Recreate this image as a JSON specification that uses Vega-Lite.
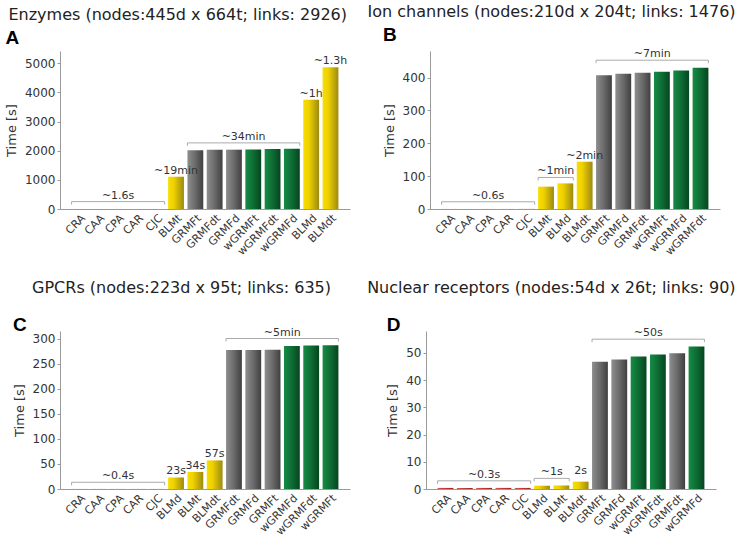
{
  "$schema": "https://vega.github.io/schema/vega-lite/v6.json",
  "background": "white",
  "padding": {"left": 5, "top": 4, "right": 5, "bottom": 5},
  "datasets": {
    "bars": [
      {"p": "A", "name": "CRA", "g": "c", "value": 0.3},
      {"p": "A", "name": "CAA", "g": "c", "value": 0.3},
      {"p": "A", "name": "CPA", "g": "c", "value": 0.3},
      {"p": "A", "name": "CAR", "g": "c", "value": 0.3},
      {"p": "A", "name": "CJC", "g": "c", "value": 0.4},
      {"p": "A", "name": "BLMt", "g": "y", "value": 1107, "label": "~19min"},
      {"p": "A", "name": "GRMFt", "g": "k", "value": 2015},
      {"p": "A", "name": "GRMFdt", "g": "k", "value": 2030},
      {"p": "A", "name": "GRMFd", "g": "k", "value": 2035},
      {"p": "A", "name": "wGRMFt", "g": "w", "value": 2040},
      {"p": "A", "name": "wGRMFdt", "g": "w", "value": 2055},
      {"p": "A", "name": "wGRMFd", "g": "w", "value": 2070},
      {"p": "A", "name": "BLMd", "g": "y", "value": 3750, "label": "~1h"},
      {"p": "A", "name": "BLMdt", "g": "y", "value": 4860, "label": "~1.3h"},
      {"p": "B", "name": "CRA", "g": "c", "value": 0.1},
      {"p": "B", "name": "CAA", "g": "c", "value": 0.1},
      {"p": "B", "name": "CPA", "g": "c", "value": 0.1},
      {"p": "B", "name": "CAR", "g": "c", "value": 0.1},
      {"p": "B", "name": "CJC", "g": "c", "value": 0.2},
      {"p": "B", "name": "BLMt", "g": "y", "value": 68},
      {"p": "B", "name": "BLMd", "g": "y", "value": 78},
      {"p": "B", "name": "BLMdt", "g": "y", "value": 144, "label": "~2min"},
      {"p": "B", "name": "GRMFt", "g": "k", "value": 407},
      {"p": "B", "name": "GRMFd", "g": "k", "value": 412},
      {"p": "B", "name": "GRMFdt", "g": "k", "value": 415},
      {"p": "B", "name": "wGRMFt", "g": "w", "value": 418},
      {"p": "B", "name": "wGRMFd", "g": "w", "value": 422},
      {"p": "B", "name": "wGRMFdt", "g": "w", "value": 430},
      {"p": "C", "name": "CRA", "g": "c", "value": 0.08},
      {"p": "C", "name": "CAA", "g": "c", "value": 0.08},
      {"p": "C", "name": "CPA", "g": "c", "value": 0.08},
      {"p": "C", "name": "CAR", "g": "c", "value": 0.08},
      {"p": "C", "name": "CJC", "g": "c", "value": 0.1},
      {"p": "C", "name": "BLMd", "g": "y", "value": 23, "label": "23s"},
      {"p": "C", "name": "BLMt", "g": "y", "value": 34, "label": "34s"},
      {"p": "C", "name": "BLMdt", "g": "y", "value": 57, "label": "57s"},
      {"p": "C", "name": "GRMFdt", "g": "k", "value": 277},
      {"p": "C", "name": "GRMFd", "g": "k", "value": 277},
      {"p": "C", "name": "GRMFt", "g": "k", "value": 277.5},
      {"p": "C", "name": "wGRMFd", "g": "w", "value": 285},
      {"p": "C", "name": "wGRMFdt", "g": "w", "value": 286},
      {"p": "C", "name": "wGRMFt", "g": "w", "value": 286.5},
      {"p": "D", "name": "CRA", "g": "c", "value": 0.4},
      {"p": "D", "name": "CAA", "g": "c", "value": 0.4},
      {"p": "D", "name": "CPA", "g": "c", "value": 0.4},
      {"p": "D", "name": "CAR", "g": "c", "value": 0.4},
      {"p": "D", "name": "CJC", "g": "c", "value": 0.4},
      {"p": "D", "name": "BLMd", "g": "y", "value": 1.2},
      {"p": "D", "name": "BLMt", "g": "y", "value": 1.3},
      {"p": "D", "name": "BLMdt", "g": "y", "value": 2.7, "label": "2s"},
      {"p": "D", "name": "GRMFt", "g": "k", "value": 46.7},
      {"p": "D", "name": "GRMFd", "g": "k", "value": 47.5},
      {"p": "D", "name": "wGRMFt", "g": "w", "value": 48.6},
      {"p": "D", "name": "wGRMFdt", "g": "w", "value": 49.4},
      {"p": "D", "name": "GRMFdt", "g": "k", "value": 49.8},
      {"p": "D", "name": "wGRMFd", "g": "w", "value": 52.3}
    ],
    "brackets": [
      {"p": "A", "start": "CRA", "end": "CJC", "mid": "CPA", "even": false, "level": 253, "tick": 153, "label": "~1.6s"},
      {"p": "A", "start": "GRMFt", "end": "wGRMFd", "mid": "GRMFd", "even": true, "level": 2268, "tick": 2168, "label": "~34min"},
      {"p": "B", "start": "CRA", "end": "CJC", "mid": "CPA", "even": false, "level": 22, "tick": 13, "label": "~0.6s"},
      {"p": "B", "start": "BLMt", "end": "BLMd", "mid": "BLMt", "even": true, "level": 96, "tick": 87, "label": "~1min"},
      {"p": "B", "start": "GRMFt", "end": "wGRMFdt", "mid": "GRMFdt", "even": true, "level": 453, "tick": 444, "label": "~7min"},
      {"p": "C", "start": "CRA", "end": "CJC", "mid": "CPA", "even": false, "level": 13.4, "tick": 7.4, "label": "~0.4s"},
      {"p": "C", "start": "GRMFdt", "end": "wGRMFt", "mid": "GRMFt", "even": true, "level": 300, "tick": 294, "label": "~5min"},
      {"p": "D", "start": "CRA", "end": "CJC", "mid": "CPA", "even": false, "level": 3.0, "tick": 1.9, "label": "~0.3s"},
      {"p": "D", "start": "BLMd", "end": "BLMt", "mid": "BLMd", "even": true, "level": 3.9, "tick": 2.8, "label": "~1s"},
      {"p": "D", "start": "GRMFt", "end": "wGRMFd", "mid": "wGRMFt", "even": true, "level": 55, "tick": 53.9, "label": "~50s"}
    ]
  },
  "vconcat": [
    {
      "spacing": 17,
      "hconcat": [
        {
          "title": {"text": "Enzymes (nodes:445d x 664t; links: 2926)", "anchor": "middle", "frame": "bounds", "offset": 6},
          "vconcat": [
            {
              "title": {"text": "A", "anchor": "start", "frame": "bounds", "font": "Liberation Sans", "fontSize": 19, "fontWeight": "bold", "color": "#000", "offset": 3},
              "width": 290, "height": 158,
              "encoding": {
                "x": {"field": "name", "type": "nominal", "title": null, "scale": {"domain": ["CRA","CAA","CPA","CAR","CJC","BLMt","GRMFt","GRMFdt","GRMFd","wGRMFt","wGRMFdt","wGRMFd","BLMd","BLMdt"], "paddingInner": 0.18, "paddingOuter": 0.6}},
                "y": {"field": "value", "type": "quantitative", "title": "Time [s]", "scale": {"domain": [0, 5420], "nice": false}, "axis": {"values": [0, 1000, 2000, 3000, 4000, 5000], "format": "d"}}
              },
              "layer": [
                {"data": {"name": "bars"}, "transform": [{"filter": "datum.p == 'A' && datum.g == 'c'"}], "mark": {"type": "bar", "color": {"gradient": "linear", "stops": [{"offset": 0, "color": "#d9534f"}, {"offset": 1, "color": "#a02020"}]}}},
                {"data": {"name": "bars"}, "transform": [{"filter": "datum.p == 'A' && datum.g == 'y'"}], "mark": {"type": "bar", "color": {"gradient": "linear", "stops": [{"offset": 0, "color": "#f8de00"}, {"offset": 0.35, "color": "#efd100"}, {"offset": 1, "color": "#9c8a12"}]}}},
                {"data": {"name": "bars"}, "transform": [{"filter": "datum.p == 'A' && datum.g == 'k'"}], "mark": {"type": "bar", "color": {"gradient": "linear", "stops": [{"offset": 0, "color": "#8e8e8e"}, {"offset": 0.5, "color": "#6a6a6a"}, {"offset": 1, "color": "#404040"}]}}},
                {"data": {"name": "bars"}, "transform": [{"filter": "datum.p == 'A' && datum.g == 'w'"}], "mark": {"type": "bar", "color": {"gradient": "linear", "stops": [{"offset": 0, "color": "#168c46"}, {"offset": 0.5, "color": "#0e6c34"}, {"offset": 1, "color": "#06451f"}]}}},
                {"data": {"name": "bars"}, "transform": [{"filter": "datum.p == 'A' && datum.label"}], "mark": {"type": "text", "baseline": "bottom", "dy": -1, "fontSize": 11, "color": "#333"}, "encoding": {"text": {"field": "label"}}},
                {"data": {"name": "brackets"}, "transform": [{"filter": "datum.p == 'A'"}], "mark": {"type": "rule", "color": "#aaaaaa"}, "encoding": {"x": {"field": "start", "type": "nominal", "bandPosition": 0, "title": null}, "x2": {"field": "end", "bandPosition": 1}, "y": {"field": "level", "type": "quantitative", "title": "Time [s]"}}},
                {"data": {"name": "brackets"}, "transform": [{"filter": "datum.p == 'A'"}], "mark": {"type": "rule", "color": "#aaaaaa"}, "encoding": {"x": {"field": "start", "type": "nominal", "bandPosition": 0, "title": null}, "y": {"field": "level", "type": "quantitative", "title": "Time [s]"}, "y2": {"field": "tick"}}},
                {"data": {"name": "brackets"}, "transform": [{"filter": "datum.p == 'A'"}], "mark": {"type": "rule", "color": "#aaaaaa"}, "encoding": {"x": {"field": "end", "type": "nominal", "bandPosition": 1, "title": null}, "y": {"field": "level", "type": "quantitative", "title": "Time [s]"}, "y2": {"field": "tick"}}},
                {"data": {"name": "brackets"}, "transform": [{"filter": "datum.p == 'A' && !datum.even"}], "mark": {"type": "text", "baseline": "bottom", "dy": -1, "fontSize": 11, "color": "#333"}, "encoding": {"x": {"field": "mid", "type": "nominal", "bandPosition": 0.5, "title": null}, "y": {"field": "level", "type": "quantitative", "title": "Time [s]"}, "text": {"field": "label"}}},
                {"data": {"name": "brackets"}, "transform": [{"filter": "datum.p == 'A' && datum.even"}], "mark": {"type": "text", "baseline": "bottom", "dy": -1, "fontSize": 11, "color": "#333"}, "encoding": {"x": {"field": "mid", "type": "nominal", "bandPosition": 1.11, "title": null}, "y": {"field": "level", "type": "quantitative", "title": "Time [s]"}, "text": {"field": "label"}}}
              ]
            }
          ]
        },
        {
          "title": {"text": "Ion channels (nodes:210d x 204t; links: 1476)", "anchor": "middle", "frame": "bounds", "offset": 6},
          "vconcat": [
            {
              "title": {"text": "B", "anchor": "start", "frame": "bounds", "font": "Liberation Sans", "fontSize": 19, "fontWeight": "bold", "color": "#000", "offset": 3},
              "width": 290, "height": 158,
              "encoding": {
                "x": {"field": "name", "type": "nominal", "title": null, "scale": {"domain": ["CRA","CAA","CPA","CAR","CJC","BLMt","BLMd","BLMdt","GRMFt","GRMFd","GRMFdt","wGRMFt","wGRMFd","wGRMFdt"], "paddingInner": 0.18, "paddingOuter": 0.6}},
                "y": {"field": "value", "type": "quantitative", "title": "Time [s]", "scale": {"domain": [0, 481], "nice": false}, "axis": {"values": [0, 100, 200, 300, 400], "format": "d"}}
              },
              "layer": [
                {"data": {"name": "bars"}, "transform": [{"filter": "datum.p == 'B' && datum.g == 'c'"}], "mark": {"type": "bar", "color": {"gradient": "linear", "stops": [{"offset": 0, "color": "#d9534f"}, {"offset": 1, "color": "#a02020"}]}}},
                {"data": {"name": "bars"}, "transform": [{"filter": "datum.p == 'B' && datum.g == 'y'"}], "mark": {"type": "bar", "color": {"gradient": "linear", "stops": [{"offset": 0, "color": "#f8de00"}, {"offset": 0.35, "color": "#efd100"}, {"offset": 1, "color": "#9c8a12"}]}}},
                {"data": {"name": "bars"}, "transform": [{"filter": "datum.p == 'B' && datum.g == 'k'"}], "mark": {"type": "bar", "color": {"gradient": "linear", "stops": [{"offset": 0, "color": "#8e8e8e"}, {"offset": 0.5, "color": "#6a6a6a"}, {"offset": 1, "color": "#404040"}]}}},
                {"data": {"name": "bars"}, "transform": [{"filter": "datum.p == 'B' && datum.g == 'w'"}], "mark": {"type": "bar", "color": {"gradient": "linear", "stops": [{"offset": 0, "color": "#168c46"}, {"offset": 0.5, "color": "#0e6c34"}, {"offset": 1, "color": "#06451f"}]}}},
                {"data": {"name": "bars"}, "transform": [{"filter": "datum.p == 'B' && datum.label"}], "mark": {"type": "text", "baseline": "bottom", "dy": -1, "fontSize": 11, "color": "#333"}, "encoding": {"text": {"field": "label"}}},
                {"data": {"name": "brackets"}, "transform": [{"filter": "datum.p == 'B'"}], "mark": {"type": "rule", "color": "#aaaaaa"}, "encoding": {"x": {"field": "start", "type": "nominal", "bandPosition": 0, "title": null}, "x2": {"field": "end", "bandPosition": 1}, "y": {"field": "level", "type": "quantitative", "title": "Time [s]"}}},
                {"data": {"name": "brackets"}, "transform": [{"filter": "datum.p == 'B'"}], "mark": {"type": "rule", "color": "#aaaaaa"}, "encoding": {"x": {"field": "start", "type": "nominal", "bandPosition": 0, "title": null}, "y": {"field": "level", "type": "quantitative", "title": "Time [s]"}, "y2": {"field": "tick"}}},
                {"data": {"name": "brackets"}, "transform": [{"filter": "datum.p == 'B'"}], "mark": {"type": "rule", "color": "#aaaaaa"}, "encoding": {"x": {"field": "end", "type": "nominal", "bandPosition": 1, "title": null}, "y": {"field": "level", "type": "quantitative", "title": "Time [s]"}, "y2": {"field": "tick"}}},
                {"data": {"name": "brackets"}, "transform": [{"filter": "datum.p == 'B' && !datum.even"}], "mark": {"type": "text", "baseline": "bottom", "dy": -1, "fontSize": 11, "color": "#333"}, "encoding": {"x": {"field": "mid", "type": "nominal", "bandPosition": 0.5, "title": null}, "y": {"field": "level", "type": "quantitative", "title": "Time [s]"}, "text": {"field": "label"}}},
                {"data": {"name": "brackets"}, "transform": [{"filter": "datum.p == 'B' && datum.even"}], "mark": {"type": "text", "baseline": "bottom", "dy": -1, "fontSize": 11, "color": "#333"}, "encoding": {"x": {"field": "mid", "type": "nominal", "bandPosition": 1.11, "title": null}, "y": {"field": "level", "type": "quantitative", "title": "Time [s]"}, "text": {"field": "label"}}}
              ]
            }
          ]
        }
      ]
    },
    {
      "spacing": 17,
      "hconcat": [
        {
          "title": {"text": "GPCRs (nodes:223d x 95t; links: 635)", "anchor": "middle", "frame": "bounds", "offset": 20},
          "vconcat": [
            {
              "title": {"text": "C", "anchor": "start", "frame": "bounds", "font": "Liberation Sans", "fontSize": 19, "fontWeight": "bold", "color": "#000", "offset": -8},
              "width": 290, "height": 158,
              "encoding": {
                "x": {"field": "name", "type": "nominal", "title": null, "scale": {"domain": ["CRA","CAA","CPA","CAR","CJC","BLMd","BLMt","BLMdt","GRMFdt","GRMFd","GRMFt","wGRMFd","wGRMFdt","wGRMFt"], "paddingInner": 0.18, "paddingOuter": 0.6}},
                "y": {"field": "value", "type": "quantitative", "title": "Time [s]", "scale": {"domain": [0, 315], "nice": false}, "axis": {"values": [0, 50, 100, 150, 200, 250, 300], "format": "d"}}
              },
              "layer": [
                {"data": {"name": "bars"}, "transform": [{"filter": "datum.p == 'C' && datum.g == 'c'"}], "mark": {"type": "bar", "color": {"gradient": "linear", "stops": [{"offset": 0, "color": "#d9534f"}, {"offset": 1, "color": "#a02020"}]}}},
                {"data": {"name": "bars"}, "transform": [{"filter": "datum.p == 'C' && datum.g == 'y'"}], "mark": {"type": "bar", "color": {"gradient": "linear", "stops": [{"offset": 0, "color": "#f8de00"}, {"offset": 0.35, "color": "#efd100"}, {"offset": 1, "color": "#9c8a12"}]}}},
                {"data": {"name": "bars"}, "transform": [{"filter": "datum.p == 'C' && datum.g == 'k'"}], "mark": {"type": "bar", "color": {"gradient": "linear", "stops": [{"offset": 0, "color": "#8e8e8e"}, {"offset": 0.5, "color": "#6a6a6a"}, {"offset": 1, "color": "#404040"}]}}},
                {"data": {"name": "bars"}, "transform": [{"filter": "datum.p == 'C' && datum.g == 'w'"}], "mark": {"type": "bar", "color": {"gradient": "linear", "stops": [{"offset": 0, "color": "#168c46"}, {"offset": 0.5, "color": "#0e6c34"}, {"offset": 1, "color": "#06451f"}]}}},
                {"data": {"name": "bars"}, "transform": [{"filter": "datum.p == 'C' && datum.label"}], "mark": {"type": "text", "baseline": "bottom", "dy": -1, "fontSize": 11, "color": "#333"}, "encoding": {"text": {"field": "label"}}},
                {"data": {"name": "brackets"}, "transform": [{"filter": "datum.p == 'C'"}], "mark": {"type": "rule", "color": "#aaaaaa"}, "encoding": {"x": {"field": "start", "type": "nominal", "bandPosition": 0, "title": null}, "x2": {"field": "end", "bandPosition": 1}, "y": {"field": "level", "type": "quantitative", "title": "Time [s]"}}},
                {"data": {"name": "brackets"}, "transform": [{"filter": "datum.p == 'C'"}], "mark": {"type": "rule", "color": "#aaaaaa"}, "encoding": {"x": {"field": "start", "type": "nominal", "bandPosition": 0, "title": null}, "y": {"field": "level", "type": "quantitative", "title": "Time [s]"}, "y2": {"field": "tick"}}},
                {"data": {"name": "brackets"}, "transform": [{"filter": "datum.p == 'C'"}], "mark": {"type": "rule", "color": "#aaaaaa"}, "encoding": {"x": {"field": "end", "type": "nominal", "bandPosition": 1, "title": null}, "y": {"field": "level", "type": "quantitative", "title": "Time [s]"}, "y2": {"field": "tick"}}},
                {"data": {"name": "brackets"}, "transform": [{"filter": "datum.p == 'C' && !datum.even"}], "mark": {"type": "text", "baseline": "bottom", "dy": -1, "fontSize": 11, "color": "#333"}, "encoding": {"x": {"field": "mid", "type": "nominal", "bandPosition": 0.5, "title": null}, "y": {"field": "level", "type": "quantitative", "title": "Time [s]"}, "text": {"field": "label"}}},
                {"data": {"name": "brackets"}, "transform": [{"filter": "datum.p == 'C' && datum.even"}], "mark": {"type": "text", "baseline": "bottom", "dy": -1, "fontSize": 11, "color": "#333"}, "encoding": {"x": {"field": "mid", "type": "nominal", "bandPosition": 1.11, "title": null}, "y": {"field": "level", "type": "quantitative", "title": "Time [s]"}, "text": {"field": "label"}}}
              ]
            }
          ]
        },
        {
          "title": {"text": "Nuclear receptors (nodes:54d x 26t; links: 90)", "anchor": "middle", "frame": "bounds", "offset": 20},
          "vconcat": [
            {
              "title": {"text": "D", "anchor": "start", "frame": "bounds", "font": "Liberation Sans", "fontSize": 19, "fontWeight": "bold", "color": "#000", "offset": -8},
              "width": 290, "height": 158,
              "encoding": {
                "x": {"field": "name", "type": "nominal", "title": null, "scale": {"domain": ["CRA","CAA","CPA","CAR","CJC","BLMd","BLMt","BLMdt","GRMFt","GRMFd","wGRMFt","wGRMFdt","GRMFdt","wGRMFd"], "paddingInner": 0.18, "paddingOuter": 0.6}},
                "y": {"field": "value", "type": "quantitative", "title": "Time [s]", "scale": {"domain": [0, 58], "nice": false}, "axis": {"values": [0, 10, 20, 30, 40, 50], "format": "d"}}
              },
              "layer": [
                {"data": {"name": "bars"}, "transform": [{"filter": "datum.p == 'D' && datum.g == 'c'"}], "mark": {"type": "bar", "color": {"gradient": "linear", "stops": [{"offset": 0, "color": "#d9534f"}, {"offset": 1, "color": "#a02020"}]}}},
                {"data": {"name": "bars"}, "transform": [{"filter": "datum.p == 'D' && datum.g == 'y'"}], "mark": {"type": "bar", "color": {"gradient": "linear", "stops": [{"offset": 0, "color": "#f8de00"}, {"offset": 0.35, "color": "#efd100"}, {"offset": 1, "color": "#9c8a12"}]}}},
                {"data": {"name": "bars"}, "transform": [{"filter": "datum.p == 'D' && datum.g == 'k'"}], "mark": {"type": "bar", "color": {"gradient": "linear", "stops": [{"offset": 0, "color": "#8e8e8e"}, {"offset": 0.5, "color": "#6a6a6a"}, {"offset": 1, "color": "#404040"}]}}},
                {"data": {"name": "bars"}, "transform": [{"filter": "datum.p == 'D' && datum.g == 'w'"}], "mark": {"type": "bar", "color": {"gradient": "linear", "stops": [{"offset": 0, "color": "#168c46"}, {"offset": 0.5, "color": "#0e6c34"}, {"offset": 1, "color": "#06451f"}]}}},
                {"data": {"name": "bars"}, "transform": [{"filter": "datum.p == 'D' && datum.label"}], "mark": {"type": "text", "baseline": "bottom", "dy": -6, "fontSize": 11, "color": "#333"}, "encoding": {"text": {"field": "label"}}},
                {"data": {"name": "brackets"}, "transform": [{"filter": "datum.p == 'D'"}], "mark": {"type": "rule", "color": "#aaaaaa"}, "encoding": {"x": {"field": "start", "type": "nominal", "bandPosition": 0, "title": null}, "x2": {"field": "end", "bandPosition": 1}, "y": {"field": "level", "type": "quantitative", "title": "Time [s]"}}},
                {"data": {"name": "brackets"}, "transform": [{"filter": "datum.p == 'D'"}], "mark": {"type": "rule", "color": "#aaaaaa"}, "encoding": {"x": {"field": "start", "type": "nominal", "bandPosition": 0, "title": null}, "y": {"field": "level", "type": "quantitative", "title": "Time [s]"}, "y2": {"field": "tick"}}},
                {"data": {"name": "brackets"}, "transform": [{"filter": "datum.p == 'D'"}], "mark": {"type": "rule", "color": "#aaaaaa"}, "encoding": {"x": {"field": "end", "type": "nominal", "bandPosition": 1, "title": null}, "y": {"field": "level", "type": "quantitative", "title": "Time [s]"}, "y2": {"field": "tick"}}},
                {"data": {"name": "brackets"}, "transform": [{"filter": "datum.p == 'D' && !datum.even"}], "mark": {"type": "text", "baseline": "bottom", "dy": -1, "fontSize": 11, "color": "#333"}, "encoding": {"x": {"field": "mid", "type": "nominal", "bandPosition": 0.5, "title": null}, "y": {"field": "level", "type": "quantitative", "title": "Time [s]"}, "text": {"field": "label"}}},
                {"data": {"name": "brackets"}, "transform": [{"filter": "datum.p == 'D' && datum.even"}], "mark": {"type": "text", "baseline": "bottom", "dy": -1, "fontSize": 11, "color": "#333"}, "encoding": {"x": {"field": "mid", "type": "nominal", "bandPosition": 1.11, "title": null}, "y": {"field": "level", "type": "quantitative", "title": "Time [s]"}, "text": {"field": "label"}}}
              ]
            }
          ]
        }
      ]
    }
  ],
  "spacing": 22,
  "config": {
    "font": "DejaVu Sans",
    "view": {"stroke": null},
    "title": {"font": "DejaVu Sans", "fontSize": 16, "fontWeight": "normal", "color": "#222"},
    "axis": {"domainColor": "#9a9a9a", "tickColor": "#9a9a9a", "labelColor": "#333", "labelFont": "DejaVu Sans", "titleFont": "DejaVu Sans", "titleColor": "#333", "titleFontWeight": "normal", "grid": false},
    "axisX": {"labelAngle": -45, "labelAlign": "right", "labelBaseline": "top", "labelFontSize": 11, "ticks": false, "labelPadding": 3},
    "axisY": {"labelFontSize": 12, "tickSize": 3, "titleFontSize": 13, "titlePadding": 6, "labelPadding": 2}
  }
}
